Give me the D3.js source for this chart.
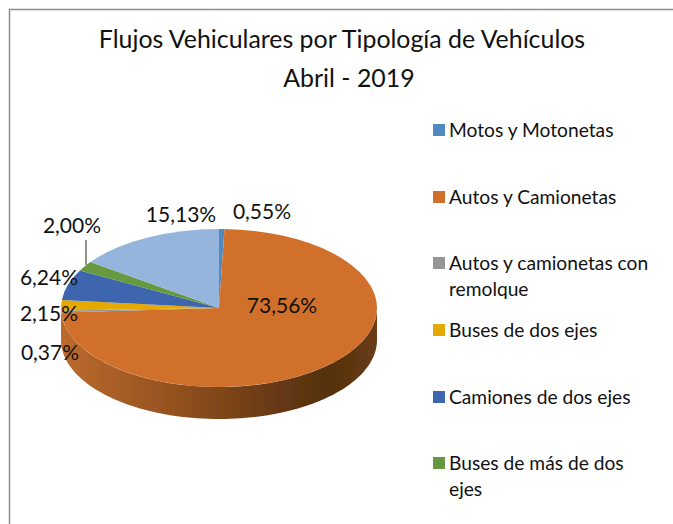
<!DOCTYPE html>
<html><head><meta charset="utf-8">
<script src="https://cdn.jsdelivr.net/npm/d3@7"></script>
<style>html,body{margin:0;background:#fff}svg{display:block}text{font-family:Lato,"Open Sans",sans-serif;fill:#111}</style>
</head><body><svg id="c" width="673" height="524"></svg>
<script>
const titleLines = ["Flujos Vehiculares por Tipología de Vehículos", "Abril - 2019"];
const legendLabels = [["Motos y Motonetas"], ["Autos y Camionetas"], ["Autos y camionetas con", "remolque"], ["Buses de dos ejes"], ["Camiones de dos ejes"], ["Buses de más de dos", "ejes"]];
const values = [0.55, 73.56, 0.37, 2.15, 6.24, 2.00, 15.13];
const valueLabels = ["0,55%", "73,56%", "0,37%", "2,15%", "6,24%", "2,00%", "15,13%"];
const sliceColors = ["#4f8bc0", "#d06f2b", "#969696", "#e5a903", "#3d66ae", "#66993f", "#95b5dd"];

// layout
const cx = 219, cy = 308, rx = 158, ry = 79, depth = 32;
const titleX = [342, 349];
const labelPos = [[262, 212], [282, 306], [50, 353], [49, 314], [49, 278], [72, 226], [181, 215]];
const legendRowY = [130, 197, 263, 330, 397, 463];

const svg = d3.select("#c");
const defs = svg.append("defs");
const grad = defs.append("linearGradient").attr("id", "wall");
[[0, "#bb6a2c"], [0.35, "#95521f"], [0.65, "#6b3b14"], [0.85, "#54300f"], [1, "#6a3c14"]].forEach(s =>
  grad.append("stop").attr("offset", s[0]).attr("stop-color", s[1]));
defs.append("filter").attr("id", "soft").append("feGaussianBlur").attr("stdDeviation", 0.45);

svg.append("path").attr("d", "M9.5,524V9.5H673").attr("fill", "none").attr("stroke", "#8c8c8c").attr("stroke-width", 1.5);

const title = svg.append("g").attr("text-anchor", "middle").attr("font-size", 24.9);
title.selectAll("text").data(titleLines).join("text")
  .attr("x", (d, i) => titleX[i]).attr("y", (d, i) => 48 + i * 39).text(d => d);

const pie = d3.pie().sort(null)(values);
const frontAngles = d3.range(Math.PI / 2, 3 * Math.PI / 2 + 0.001, Math.PI / 90);
const wall = d3.area()
  .x(a => rx * Math.sin(a))
  .y0(a => -ry * Math.cos(a))
  .y1(a => -ry * Math.cos(a) + depth);
const pieG = svg.append("g").attr("transform", `translate(${cx},${cy})`).attr("filter", "url(#soft)");
pieG.append("path").attr("d", wall(frontAngles)).attr("fill", "url(#wall)");
const arc = d3.arc().innerRadius(0).outerRadius(rx);
pieG.append("g").attr("transform", `scale(1,${ry / rx})`)
  .selectAll("path").data(pie).join("path")
  .attr("d", arc).attr("fill", (d, i) => sliceColors[i]);

svg.append("line").attr("x1", 86).attr("x2", 86).attr("y1", 240).attr("y2", 265).attr("stroke", "#222").attr("stroke-width", 1);

svg.append("g").attr("text-anchor", "middle").attr("font-size", 21)
  .selectAll("text").data(valueLabels).join("text")
  .attr("x", (d, i) => labelPos[i][0]).attr("y", (d, i) => labelPos[i][1])
  .attr("dy", "0.35em").text(d => d);

const leg = svg.append("g").selectAll("g").data(legendLabels).join("g")
  .attr("transform", (d, i) => `translate(433,${legendRowY[i]})`);
leg.append("rect").attr("y", -6).attr("width", 12).attr("height", 12).attr("fill", (d, i) => sliceColors[i]);
leg.selectAll("text").data(d => d).join("text")
  .attr("x", 16).attr("y", (d, i) => i * 26).attr("dy", "0.35em").attr("font-size", 19.2).text(d => d);
</script></body></html>
